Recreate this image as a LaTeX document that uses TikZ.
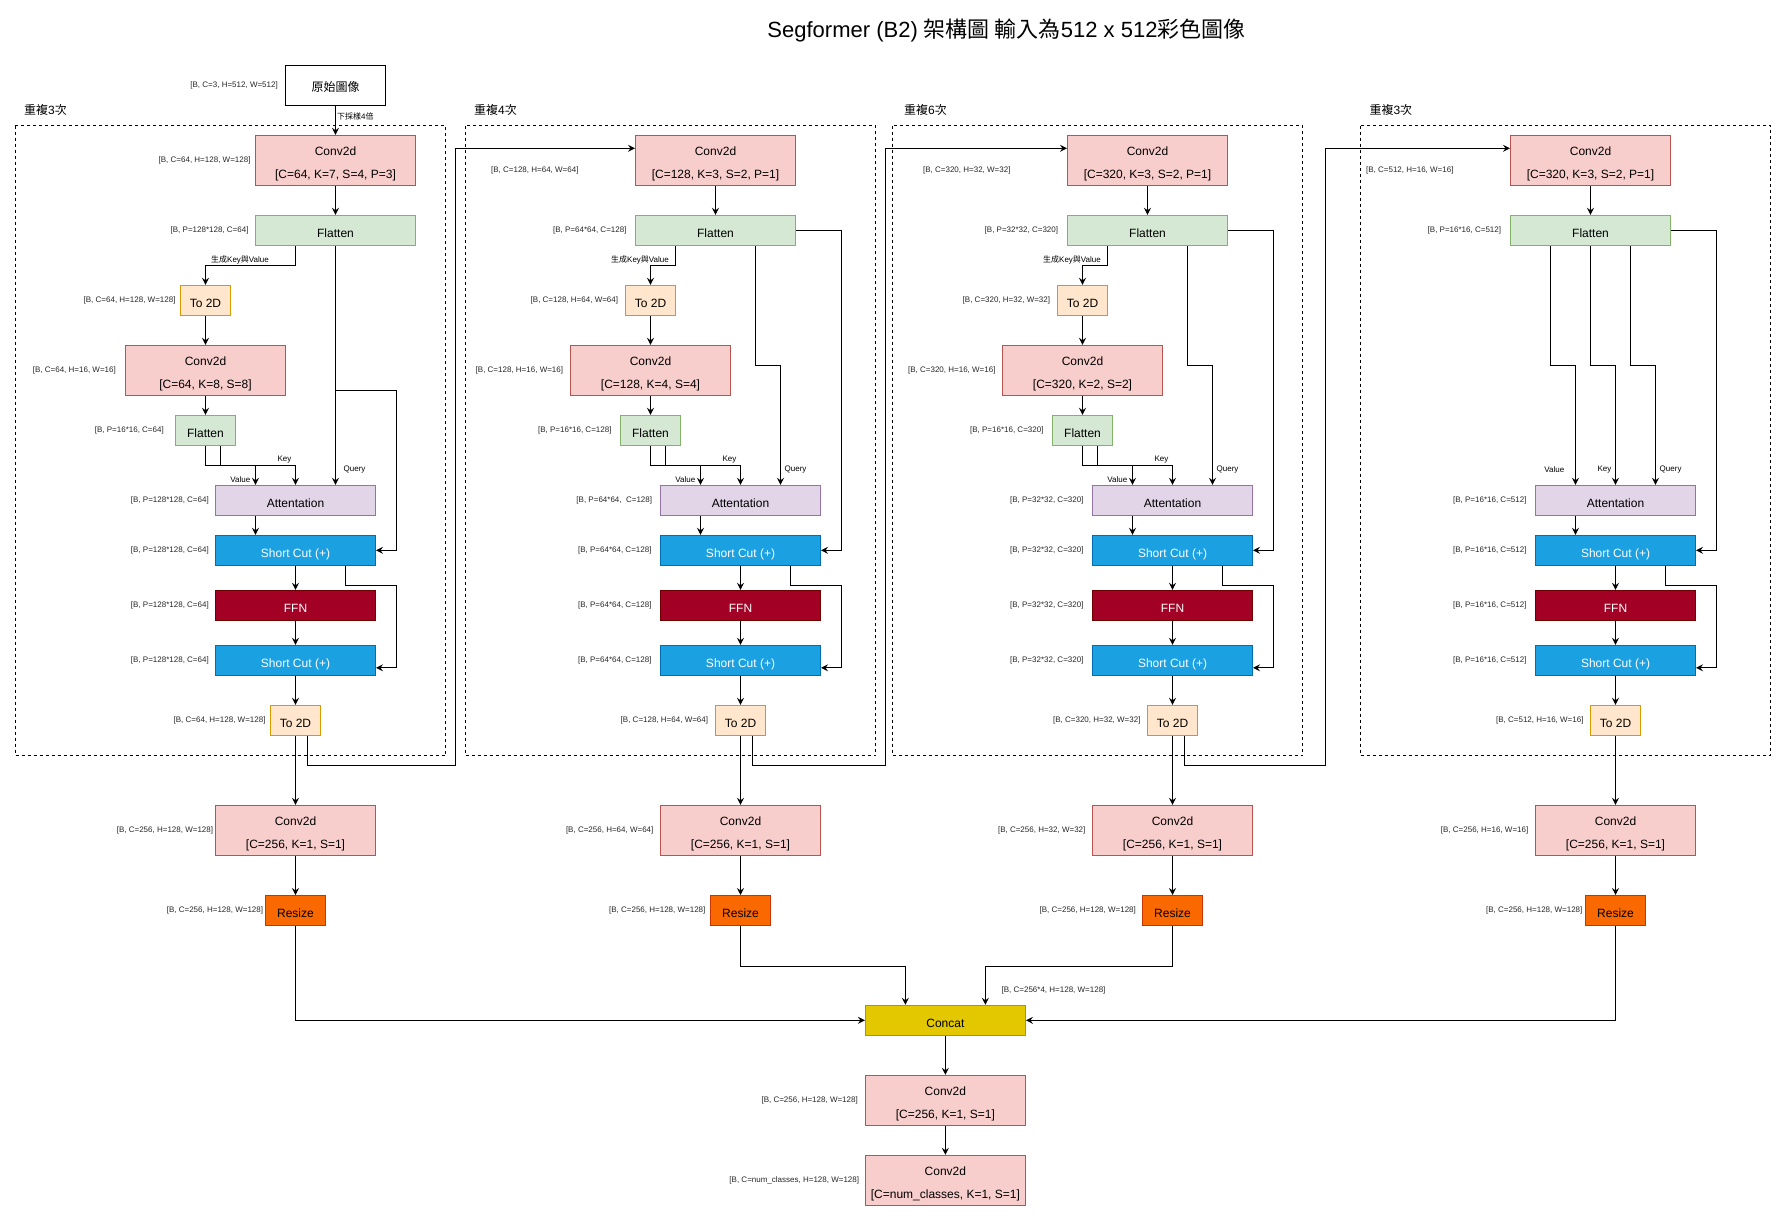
\documentclass[tikz,border=0pt]{standalone}
\usepackage{fontspec}
\setmainfont{Liberation Sans}
\newfontfamily\cjk{Noto Sans CJK TC}
\usetikzlibrary{arrows.meta,positioning,calc}

\definecolor{convfill}{HTML}{F8CECC}\definecolor{convline}{HTML}{B85450}
\definecolor{flatfill}{HTML}{D5E8D4}\definecolor{flatline}{HTML}{82B366}
\definecolor{todfill}{HTML}{FFE6CC}\definecolor{todline}{HTML}{D79B00}
\definecolor{attfill}{HTML}{E1D5E7}\definecolor{attline}{HTML}{9673A6}
\definecolor{addfill}{HTML}{1BA1E2}\definecolor{addline}{HTML}{006EAF}
\definecolor{ffnfill}{HTML}{A20025}\definecolor{ffnline}{HTML}{6F0000}
\definecolor{rszfill}{HTML}{FA6800}\definecolor{rszline}{HTML}{C73500}
\definecolor{catfill}{HTML}{E3C800}\definecolor{catline}{HTML}{B09500}

\tikzset{
  blk/.style={draw, line width=1pt, inner sep=0pt, align=center, font=\fontsize{12}{14}\selectfont,
    text height=13.6pt, text depth=0pt},
  convbox/.style={blk, draw=convline, fill=convfill, minimum width=160pt, minimum height=50pt,
    text height=35.6pt, text depth=0pt},
  flatbox/.style={blk, draw=flatline, fill=flatfill, minimum width=160pt, minimum height=30pt},
  flatsmall/.style={flatbox, minimum width=60pt},
  todbox/.style={blk, draw=todline, fill=todfill, minimum width=50pt, minimum height=30pt},
  attbox/.style={blk, draw=attline, fill=attfill, minimum width=160pt, minimum height=30pt},
  addbox/.style={blk, draw=addline, fill=addfill, text=white, minimum width=160pt, minimum height=30pt},
  ffnbox/.style={blk, draw=ffnline, fill=ffnfill, text=white, minimum width=160pt, minimum height=30pt},
  rszbox/.style={blk, draw=rszline, fill=rszfill, minimum width=60pt, minimum height=30pt},
  catbox/.style={blk, draw=catline, fill=catfill, minimum width=160pt, minimum height=30pt},
  dimtxt/.style={font=\fontsize{8}{9}\selectfont, text=black!85, inner sep=0pt, anchor=east},
  tagtxt/.style={font=\fontsize{8}{9}\selectfont, inner sep=0pt},
  reptxt/.style={font=\fontsize{12}{14}\selectfont, inner sep=0pt, anchor=west},
  arr/.style={-{Stealth[length=7pt,width=7pt,inset=2.5pt]}, line width=1pt},
  stagebox/.style={dash pattern=on 3pt off 3pt, line width=1pt},
}

\begin{document}
\begin{tikzpicture}[x=1pt,y=-1pt]
\useasboundingbox (0,0) rectangle (1788,1221);

\node[font=\fontsize{22}{26}\selectfont, inner sep=0pt] (title) at (1006.5,30.5)
  {Segformer (B2) {\cjk 架構圖 輸入為}512 x 512{\cjk 彩色圖像}};

% Input
\node[blk, minimum width=100pt, minimum height=40pt] (img) at (335.5,85) {{\cjk 原始圖像}};
\node[dimtxt] (dimg) at (278,85) {[B, C=3, H=512, W=512]};

% Stage 1
\draw[stagebox] (15.3,125.5) rectangle (445.7,755.3);
\node[reptxt] (rep1) at (24,109.5) {{\cjk 重複}3{\cjk 次}};
\node[convbox] (conv1) at (335.5,160.3) {Conv2d\\[8.5pt][C=64, K=7, S=4, P=3]};
\node[flatbox] (flat1) at (335.5,230.3) {Flatten};
\node[todbox] (kv1) at (205.5,300.3) {To 2D};
\node[convbox] (sr1) at (205.5,370.3) {Conv2d\\[8.5pt][C=64, K=8, S=8]};
\node[flatsmall] (flatsr1) at (205.5,430.3) {Flatten};
\node[attbox] (att1) at (295.5,500.3) {Attentation};
\node[addbox] (adda1) at (295.5,550.3) {Short Cut (+)};
\node[ffnbox] (ffn1) at (295.5,605.3) {FFN};
\node[addbox] (addb1) at (295.5,660.3) {Short Cut (+)};
\node[todbox] (out1) at (295.5,720.3) {To 2D};
\node[convbox] (proj1) at (295.5,830.3) {Conv2d\\[8.5pt][C=256, K=1, S=1]};
\node[rszbox] (resize1) at (295.5,910.5) {Resize};

\node[dimtxt] (dconv1) at (250.7,160) {[B, C=64, H=128, W=128]};
\node[dimtxt] (dflat1) at (248.7,230) {[B, P=128*128, C=64]};
\node[dimtxt] (dkv1) at (175.7,300) {[B, C=64, H=128, W=128]};
\node[dimtxt] (dsr1) at (116,370) {[B, C=64, H=16, W=16]};
\node[dimtxt] (dflatsr1) at (164,430) {[B, P=16*16, C=64]};
\node[dimtxt] (datt1) at (209,500) {[B, P=128*128, C=64]};
\node[dimtxt] (dadda1) at (209,550) {[B, P=128*128, C=64]};
\node[dimtxt] (dffn1) at (209,605) {[B, P=128*128, C=64]};
\node[dimtxt] (daddb1) at (209,660) {[B, P=128*128, C=64]};
\node[dimtxt] (dout1) at (265.7,720) {[B, C=64, H=128, W=128]};
\node[dimtxt] (dproj1) at (213.3,830) {[B, C=256, H=128, W=128]};
\node[dimtxt] (dresize1) at (263.3,910) {[B, C=256, H=128, W=128]};

\draw[arr] (img.south) -- (conv1.north);
\node[tagtxt, anchor=west] (ds) at (337,116) {{\cjk 下採樣}4{\cjk 倍}};
\draw[arr] (conv1) -- (flat1);
\draw[arr] ([xshift=-40pt]flat1.south) -- ++(0,20) -| (kv1.north);
\node[tagtxt] (gen1) at (240,260) {{\cjk 生成}Key{\cjk 與}Value};
\draw[arr] (kv1) -- (sr1);
\draw[arr] (sr1) -- (flatsr1);
\draw[arr] (flatsr1.south) -- ++(0,20) -| ([xshift=-40pt]att1.north);
\draw[arr] ([xshift=15pt]flatsr1.south) -- ++(0,20) -| (att1.north);
\draw[arr] (flat1.south) -- ([xshift=40pt]att1.north);
\draw[arr] (flat1.south) -- ++(0,145) -| ([xshift=20pt]adda1.east) -- (adda1.east);
\node[tagtxt, anchor=east] (key1) at ([xshift=-4pt,yshift=25pt]att1.north) {Key};
\node[tagtxt, anchor=east] (val1) at ([xshift=-45pt,yshift=5pt]att1.north) {Value};
\node[tagtxt, anchor=west] (qry1) at ([xshift=48pt,yshift=15pt]att1.north) {Query};
\draw[arr] ([xshift=-40pt]att1.south) -- ([xshift=-40pt]adda1.north);
\draw[arr] (adda1) -- (ffn1);
\draw[arr] (ffn1) -- (addb1);
\draw[arr] ([xshift=50pt]adda1.south) -- ++(0,20) -| ([xshift=20pt,yshift=-7.5pt]addb1.east) -- ([yshift=-7.5pt]addb1.east);
\draw[arr] (addb1) -- (out1);
\draw[arr] (out1) -- (proj1);
\draw[arr] (proj1) -- (resize1);

% Stage 2
\draw[stagebox] (465.3,125.5) rectangle (875.7,755.3);
\node[reptxt] (rep2) at (474,109.5) {{\cjk 重複}4{\cjk 次}};
\node[convbox] (conv2) at (715.5,160.3) {Conv2d\\[8.5pt][C=128, K=3, S=2, P=1]};
\node[flatbox] (flat2) at (715.5,230.3) {Flatten};
\node[todbox] (kv2) at (650.5,300.3) {To 2D};
\node[convbox] (sr2) at (650.5,370.3) {Conv2d\\[8.5pt][C=128, K=4, S=4]};
\node[flatsmall] (flatsr2) at (650.5,430.3) {Flatten};
\node[attbox] (att2) at (740.5,500.3) {Attentation};
\node[addbox] (adda2) at (740.5,550.3) {Short Cut (+)};
\node[ffnbox] (ffn2) at (740.5,605.3) {FFN};
\node[addbox] (addb2) at (740.5,660.3) {Short Cut (+)};
\node[todbox] (out2) at (740.5,720.3) {To 2D};
\node[convbox] (proj2) at (740.5,830.3) {Conv2d\\[8.5pt][C=256, K=1, S=1]};
\node[rszbox] (resize2) at (740.5,910.5) {Resize};

\node[dimtxt] (dconv2) at (578.7,170) {[B, C=128, H=64, W=64]};
\node[dimtxt] (dflat2) at (626.7,230) {[B, P=64*64, C=128]};
\node[dimtxt] (dkv2) at (618.3,300) {[B, C=128, H=64, W=64]};
\node[dimtxt] (dsr2) at (563.3,370) {[B, C=128, H=16, W=16]};
\node[dimtxt] (dflatsr2) at (611.7,430) {[B, P=16*16, C=128]};
\node[dimtxt] (datt2) at (652.3,500) {[B, P=64*64, \ C=128]};
\node[dimtxt] (dadda2) at (651.7,550) {[B, P=64*64, C=128]};
\node[dimtxt] (dffn2) at (651.7,605) {[B, P=64*64, C=128]};
\node[dimtxt] (daddb2) at (651.7,660) {[B, P=64*64, C=128]};
\node[dimtxt] (dout2) at (708.3,720) {[B, C=128, H=64, W=64]};
\node[dimtxt] (dproj2) at (653.6,830) {[B, C=256, H=64, W=64]};
\node[dimtxt] (dresize2) at (705.6,910) {[B, C=256, H=128, W=128]};

\coordinate (hop1) at (455.3,765.3);
\draw[arr] ([xshift=12pt]out1.south) |- (hop1) |- ([yshift=12pt]conv2.west);
\draw[arr] (conv2) -- (flat2);
\draw[arr] ([xshift=-40pt]flat2.south) -- ++(0,20) -| (kv2.north);
\node[tagtxt] (gen2) at (640,260) {{\cjk 生成}Key{\cjk 與}Value};
\draw[arr] (kv2) -- (sr2);
\draw[arr] (sr2) -- (flatsr2);
\draw[arr] (flatsr2.south) -- ++(0,20) -| ([xshift=-40pt]att2.north);
\draw[arr] ([xshift=15pt]flatsr2.south) -- ++(0,20) -| (att2.north);
\draw[arr] ([xshift=40pt]flat2.south) -- ++(0,120) -| ([xshift=40pt]att2.north);
\draw[arr] (flat2.east) -| ([xshift=20pt]adda2.east) -- (adda2.east);
\node[tagtxt, anchor=east] (key2) at ([xshift=-4pt,yshift=25pt]att2.north) {Key};
\node[tagtxt, anchor=east] (val2) at ([xshift=-45pt,yshift=5pt]att2.north) {Value};
\node[tagtxt, anchor=west] (qry2) at ([xshift=44pt,yshift=15pt]att2.north) {Query};
\draw[arr] ([xshift=-40pt]att2.south) -- ([xshift=-40pt]adda2.north);
\draw[arr] (adda2) -- (ffn2);
\draw[arr] (ffn2) -- (addb2);
\draw[arr] ([xshift=50pt]adda2.south) -- ++(0,20) -| ([xshift=20pt,yshift=-7.5pt]addb2.east) -- ([yshift=-7.5pt]addb2.east);
\draw[arr] (addb2) -- (out2);
\draw[arr] (out2) -- (proj2);
\draw[arr] (proj2) -- (resize2);

% Stage 3
\draw[stagebox] (892.3,125.5) rectangle (1302.7,755.3);
\node[reptxt] (rep3) at (904,109.5) {{\cjk 重複}6{\cjk 次}};
\node[convbox] (conv3) at (1147.5,160.3) {Conv2d\\[8.5pt][C=320, K=3, S=2, P=1]};
\node[flatbox] (flat3) at (1147.5,230.3) {Flatten};
\node[todbox] (kv3) at (1082.5,300.3) {To 2D};
\node[convbox] (sr3) at (1082.5,370.3) {Conv2d\\[8.5pt][C=320, K=2, S=2]};
\node[flatsmall] (flatsr3) at (1082.5,430.3) {Flatten};
\node[attbox] (att3) at (1172.5,500.3) {Attentation};
\node[addbox] (adda3) at (1172.5,550.3) {Short Cut (+)};
\node[ffnbox] (ffn3) at (1172.5,605.3) {FFN};
\node[addbox] (addb3) at (1172.5,660.3) {Short Cut (+)};
\node[todbox] (out3) at (1172.5,720.3) {To 2D};
\node[convbox] (proj3) at (1172.5,830.3) {Conv2d\\[8.5pt][C=256, K=1, S=1]};
\node[rszbox] (resize3) at (1172.5,910.5) {Resize};

\node[dimtxt] (dconv3) at (1010.7,170) {[B, C=320, H=32, W=32]};
\node[dimtxt] (dflat3) at (1058.3,230) {[B, P=32*32, C=320]};
\node[dimtxt] (dkv3) at (1050.3,300) {[B, C=320, H=32, W=32]};
\node[dimtxt] (dsr3) at (995.7,370) {[B, C=320, H=16, W=16]};
\node[dimtxt] (dflatsr3) at (1043.7,430) {[B, P=16*16, C=320]};
\node[dimtxt] (datt3) at (1083.7,500) {[B, P=32*32, C=320]};
\node[dimtxt] (dadda3) at (1083.7,550) {[B, P=32*32, C=320]};
\node[dimtxt] (dffn3) at (1083.7,605) {[B, P=32*32, C=320]};
\node[dimtxt] (daddb3) at (1083.7,660) {[B, P=32*32, C=320]};
\node[dimtxt] (dout3) at (1140.7,720) {[B, C=320, H=32, W=32]};
\node[dimtxt] (dproj3) at (1085.6,830) {[B, C=256, H=32, W=32]};
\node[dimtxt] (dresize3) at (1136.1,910) {[B, C=256, H=128, W=128]};

\coordinate (hop2) at (885.3,765.3);
\draw[arr] ([xshift=12pt]out2.south) |- (hop2) |- ([yshift=12pt]conv3.west);
\draw[arr] (conv3) -- (flat3);
\draw[arr] ([xshift=-40pt]flat3.south) -- ++(0,20) -| (kv3.north);
\node[tagtxt] (gen3) at (1072,260) {{\cjk 生成}Key{\cjk 與}Value};
\draw[arr] (kv3) -- (sr3);
\draw[arr] (sr3) -- (flatsr3);
\draw[arr] (flatsr3.south) -- ++(0,20) -| ([xshift=-40pt]att3.north);
\draw[arr] ([xshift=15pt]flatsr3.south) -- ++(0,20) -| (att3.north);
\draw[arr] ([xshift=40pt]flat3.south) -- ++(0,120) -| ([xshift=40pt]att3.north);
\draw[arr] (flat3.east) -| ([xshift=20pt]adda3.east) -- (adda3.east);
\node[tagtxt, anchor=east] (key3) at ([xshift=-4pt,yshift=25pt]att3.north) {Key};
\node[tagtxt, anchor=east] (val3) at ([xshift=-45pt,yshift=5pt]att3.north) {Value};
\node[tagtxt, anchor=west] (qry3) at ([xshift=44pt,yshift=15pt]att3.north) {Query};
\draw[arr] ([xshift=-40pt]att3.south) -- ([xshift=-40pt]adda3.north);
\draw[arr] (adda3) -- (ffn3);
\draw[arr] (ffn3) -- (addb3);
\draw[arr] ([xshift=50pt]adda3.south) -- ++(0,20) -| ([xshift=20pt,yshift=-7.5pt]addb3.east) -- ([yshift=-7.5pt]addb3.east);
\draw[arr] (addb3) -- (out3);
\draw[arr] (out3) -- (proj3);
\draw[arr] (proj3) -- (resize3);

% Stage 4
\draw[stagebox] (1360.3,125.5) rectangle (1770.3,755.3);
\node[reptxt] (rep4) at (1369.3,109.5) {{\cjk 重複}3{\cjk 次}};
\node[convbox] (conv4) at (1590.5,160.3) {Conv2d\\[8.5pt][C=320, K=3, S=2, P=1]};
\node[flatbox] (flat4) at (1590.5,230.3) {Flatten};
\node[attbox] (att4) at (1615.5,500.3) {Attentation};
\node[addbox] (adda4) at (1615.5,550.3) {Short Cut (+)};
\node[ffnbox] (ffn4) at (1615.5,605.3) {FFN};
\node[addbox] (addb4) at (1615.5,660.3) {Short Cut (+)};
\node[todbox] (out4) at (1615.5,720.3) {To 2D};
\node[convbox] (proj4) at (1615.5,830.3) {Conv2d\\[8.5pt][C=256, K=1, S=1]};
\node[rszbox] (resize4) at (1615.5,910.5) {Resize};

\node[dimtxt] (dconv4) at (1453.7,170) {[B, C=512, H=16, W=16]};
\node[dimtxt] (dflat4) at (1501.3,230) {[B, P=16*16, C=512]};
\node[dimtxt] (datt4) at (1526.7,500) {[B, P=16*16, C=512]};
\node[dimtxt] (dadda4) at (1526.7,550) {[B, P=16*16, C=512]};
\node[dimtxt] (dffn4) at (1526.7,605) {[B, P=16*16, C=512]};
\node[dimtxt] (daddb4) at (1526.7,660) {[B, P=16*16, C=512]};
\node[dimtxt] (dout4) at (1583.7,720) {[B, C=512, H=16, W=16]};
\node[dimtxt] (dproj4) at (1528.5,830) {[B, C=256, H=16, W=16]};
\node[dimtxt] (dresize4) at (1582.6,910) {[B, C=256, H=128, W=128]};

\coordinate (hop3) at (1325.3,765.3);
\draw[arr] ([xshift=12pt]out3.south) |- (hop3) |- ([yshift=12pt]conv4.west);
\draw[arr] (conv4) -- (flat4);
\draw[arr] ([xshift=-40pt]flat4.south) -- ++(0,120) -| ([xshift=-40pt]att4.north);
\draw[arr] (flat4.south) -- ++(0,120) -| (att4.north);
\draw[arr] ([xshift=40pt]flat4.south) -- ++(0,120) -| ([xshift=40pt]att4.north);
\draw[arr] (flat4.east) -| ([xshift=20pt]adda4.east) -- (adda4.east);
\node[tagtxt, anchor=east] (val4) at ([xshift=-51pt,yshift=15pt]att4.north) {Value};
\node[tagtxt, anchor=east] (key4) at ([xshift=-4pt,yshift=15pt]att4.north) {Key};
\node[tagtxt, anchor=west] (qry4) at ([xshift=44pt,yshift=15pt]att4.north) {Query};
\draw[arr] ([xshift=-40pt]att4.south) -- ([xshift=-40pt]adda4.north);
\draw[arr] (adda4) -- (ffn4);
\draw[arr] (ffn4) -- (addb4);
\draw[arr] ([xshift=50pt]adda4.south) -- ++(0,20) -| ([xshift=20pt,yshift=-7.5pt]addb4.east) -- ([yshift=-7.5pt]addb4.east);
\draw[arr] (addb4) -- (out4);
\draw[arr] (out4) -- (proj4);
\draw[arr] (proj4) -- (resize4);

% Head
\node[catbox] (cat) at (945.4,1020.3) {Concat};
\node[convbox] (head1) at (945.4,1100.3) {Conv2d\\[8.5pt][C=256, K=1, S=1]};
\node[convbox] (head2) at (945.4,1180.3) {Conv2d\\[8.5pt][C=num\_classes, K=1, S=1]};
\node[tagtxt, anchor=west, text=black!85] (dcat) at (1001.4,990.3) {[B, C=256*4, H=128, W=128]};
\node[dimtxt] (dhead1) at (858,1100) {[B, C=256, H=128, W=128]};
\node[dimtxt] (dhead2) at (859.3,1180) {[B, C=num\_classes, H=128, W=128]};

\draw[arr] (resize1.south) |- (cat.west);
\draw[arr] (resize2.south) -- ++(0,40) -| ([xshift=-40pt]cat.north);
\draw[arr] (resize3.south) -- ++(0,40) -| ([xshift=40pt]cat.north);
\draw[arr] (resize4.south) |- (cat.east);
\draw[arr] (cat) -- (head1);
\draw[arr] (head1) -- (head2);
\end{tikzpicture}
\end{document}
